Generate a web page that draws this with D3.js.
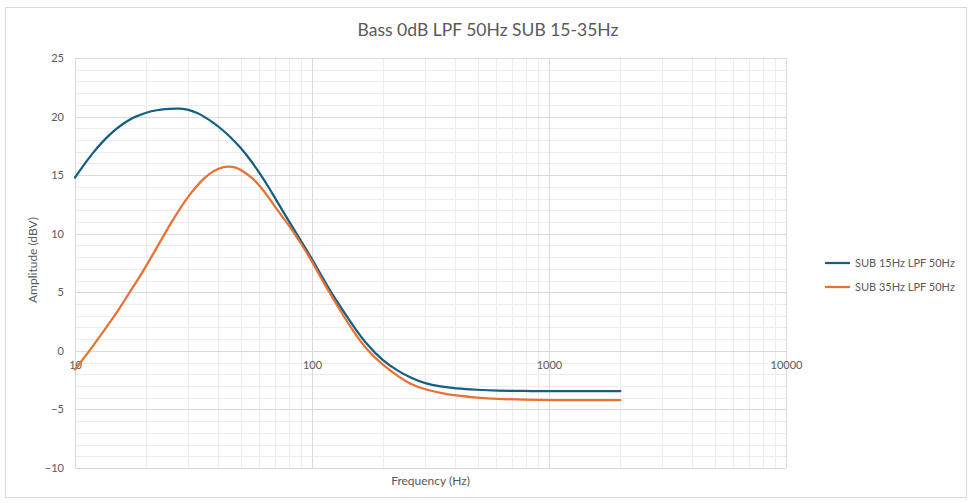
<!DOCTYPE html>
<html>
<head>
<meta charset="utf-8">
<script src="https://cdn.jsdelivr.net/npm/d3@7"></script>
<style>
  html, body { margin: 0; padding: 0; background: #fff; }
  svg { display: block; font-family: Lato, "Open Sans", sans-serif; }
</style>
</head>
<body>
<svg id="chart" width="974" height="503"></svg>
<script>
// ---- data ----
const title = "Bass 0dB LPF 50Hz SUB 15-35Hz";
const seriesNames = ["SUB 15Hz LPF 50Hz", "SUB 35Hz LPF 50Hz"];
const seriesColors = ["#156082", "#E97132"];

const freqBlue = [10, 11, 12, 13, 14, 15, 16, 17, 18, 20, 22, 25, 28, 30, 33, 35, 38, 42, 45, 50, 55, 60, 66, 70, 80, 90, 100, 110, 120, 130, 150, 170, 200, 230, 260, 300, 350, 400, 500, 600, 800, 1000, 1500, 2000];
const sub15 =     [14.8, 16.0, 17.0, 17.8, 18.45, 19.0, 19.4, 19.75, 20.0, 20.35, 20.55, 20.68, 20.7, 20.6, 20.3, 20.0, 19.55, 18.85, 18.3, 17.35, 16.3, 15.2, 13.9, 13.0, 11.05, 9.35, 7.85, 6.35, 5.05, 3.95, 2.05, 0.55, -0.9, -1.7, -2.3, -2.8, -3.05, -3.2, -3.33, -3.4, -3.43, -3.43, -3.43, -3.43];

const freqOrange = [10, 11, 11.6, 12.5, 14, 15.5, 17, 19, 20.7, 23, 25.2, 28, 30.6, 34, 37, 40, 44, 48, 50, 55, 60, 66.5, 72, 80.8, 90, 100, 110, 120, 130, 150, 170, 200, 230, 260, 300, 350, 400, 500, 600, 800, 1000, 1500, 2000];
const sub35 =      [-1.6, -0.5, 0.1, 1.0, 2.4, 3.7, 5.0, 6.5, 7.8, 9.4, 10.8, 12.3, 13.4, 14.5, 15.15, 15.55, 15.78, 15.65, 15.45, 14.9, 14.15, 12.95, 11.9, 10.6, 9.15, 7.65, 6.1, 4.8, 3.6, 1.6, 0.1, -1.25, -2.15, -2.85, -3.3, -3.6, -3.8, -4.0, -4.1, -4.18, -4.2, -4.2, -4.2];

const xTicks = [10, 100, 1000, 10000];
const yTicks = [-10, -5, 0, 5, 10, 15, 20, 25];
const xLabel = "Frequency (Hz)";
const yLabel = "Amplitude (dBV)";

// ---- layout ----
const svg = d3.select("#chart");
const plot = { left: 75, right: 786, top: 58, bottom: 468 };

svg.append("rect").attr("x", 5.5).attr("y", 7.5).attr("width", 961).attr("height", 490)
  .attr("fill", "#fff").attr("stroke", "#d9d9d9");

const x = d3.scaleLog().domain([10, 10000]).range([plot.left, plot.right]);
const y = d3.scaleLinear().domain([-10, 25]).range([plot.bottom, plot.top]);

// minor grid
const minorX = [];
for (let d = 10; d < 10000; d *= 10) for (let k = 2; k <= 9; k++) minorX.push(d * k);
const minorY = d3.range(-10, 26, 1).filter(v => v % 5 !== 0);

const g = svg.append("g");
g.selectAll("line.mx").data(minorX).join("line")
  .attr("x1", d => Math.round(x(d)) + 0.5).attr("x2", d => Math.round(x(d)) + 0.5)
  .attr("y1", plot.top).attr("y2", plot.bottom)
  .attr("stroke", "#ececec").attr("stroke-width", 1);
g.selectAll("line.my").data(minorY).join("line")
  .attr("y1", d => Math.round(y(d)) + 0.5).attr("y2", d => Math.round(y(d)) + 0.5)
  .attr("x1", plot.left).attr("x2", plot.right)
  .attr("stroke", "#ececec").attr("stroke-width", 1);
// major grid
g.selectAll("line.MX").data(xTicks).join("line")
  .attr("x1", d => Math.round(x(d)) + 0.5).attr("x2", d => Math.round(x(d)) + 0.5)
  .attr("y1", plot.top).attr("y2", plot.bottom)
  .attr("stroke", "#d9d9d9").attr("stroke-width", 1);
g.selectAll("line.MY").data(yTicks).join("line")
  .attr("y1", d => Math.round(y(d)) + 0.5).attr("y2", d => Math.round(y(d)) + 0.5)
  .attr("x1", plot.left).attr("x2", plot.right)
  .attr("stroke", "#d9d9d9").attr("stroke-width", 1);

// axes via d3 axis (labels only)
const yAxis = d3.axisLeft(y).tickValues(yTicks).tickSize(0).tickPadding(0).tickFormat(d3.format("d"));
const ya = svg.append("g").attr("transform", `translate(${plot.left - 11},0)`).call(yAxis);
ya.select(".domain").remove();
ya.selectAll("text").attr("fill", "#595959").attr("font-size", 11).attr("font-family", "Lato, sans-serif");

const xAxis = d3.axisBottom(x).tickValues(xTicks).tickSize(0).tickPadding(0).tickFormat(d3.format("d"));
const xa = svg.append("g").attr("transform", `translate(0,${y(0) + 10})`).call(xAxis);
xa.select(".domain").remove();
xa.selectAll("text").attr("fill", "#595959").attr("font-size", 11).attr("font-family", "Lato, sans-serif");

// lines
const line = d3.line().curve(d3.curveBasis).x(d => x(d[0])).y(d => y(d[1]));
const series = [
  { name: seriesNames[0], color: seriesColors[0], pts: d3.zip(freqBlue, sub15) },
  { name: seriesNames[1], color: seriesColors[1], pts: d3.zip(freqOrange, sub35) }
];
svg.append("g").selectAll("path").data(series).join("path")
  .attr("d", d => line(d.pts))
  .attr("fill", "none").attr("stroke", d => d.color).attr("stroke-width", 2.25)
  .attr("stroke-linejoin", "round").attr("stroke-linecap", "round");

// title
svg.append("text").attr("x", 488).attr("y", 36).attr("text-anchor", "middle")
  .attr("font-size", 17.5).attr("fill", "#595959").text(title);

// axis titles
svg.append("text").attr("x", (plot.left + plot.right) / 2).attr("y", 485).attr("text-anchor", "middle")
  .attr("font-size", 12).attr("fill", "#595959").text(xLabel);
svg.append("text").attr("transform", `translate(37,${(plot.top + plot.bottom) / 2 - 3}) rotate(-90)`)
  .attr("text-anchor", "middle").attr("font-size", 12).attr("fill", "#595959").text(yLabel);

// legend
const lg = svg.append("g").selectAll("g").data(series).join("g")
  .attr("transform", (d, i) => `translate(825,${263 + i * 24})`);
lg.append("line").attr("x1", 0).attr("x2", 25).attr("y1", 0).attr("y2", 0)
  .attr("stroke", d => d.color).attr("stroke-width", 2.25);
lg.append("text").attr("x", 30).attr("y", 4).attr("font-size", 11).attr("fill", "#595959").text(d => d.name);
</script>
</body>
</html>
